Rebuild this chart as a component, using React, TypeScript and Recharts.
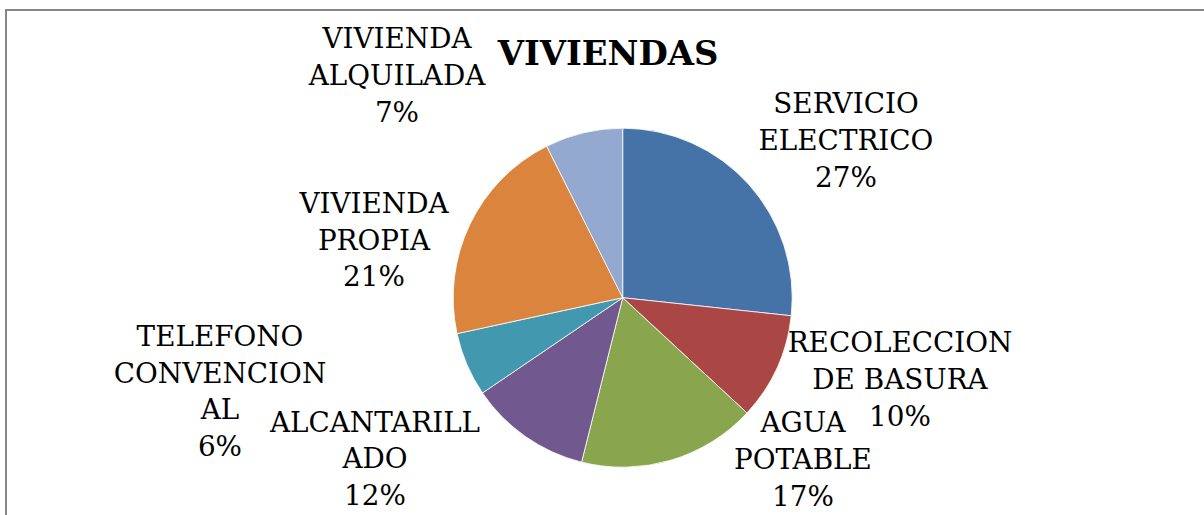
import React from "react";
import { PieChart, Pie, Cell } from "recharts";

// ---- data ----
const categories = [
  "SERVICIO ELECTRICO",
  "RECOLECCION DE BASURA",
  "AGUA POTABLE",
  "ALCANTARILLADO",
  "TELEFONO CONVENCIONAL",
  "VIVIENDA PROPIA",
  "VIVIENDA ALQUILADA",
];
const values = [26.7, 10.2, 17.0, 11.6, 6.1, 21.0, 7.4];
// label text as wrapped in the original chart
const labelLines = [
  ["SERVICIO", "ELECTRICO"],
  ["RECOLECCION", "DE BASURA"],
  ["AGUA", "POTABLE"],
  ["ALCANTARILL", "ADO"],
  ["TELEFONO", "CONVENCION", "AL"],
  ["VIVIENDA", "PROPIA"],
  ["VIVIENDA", "ALQUILADA"],
];
const title = "VIVIENDAS";

// ---- styles / layout ----
const colors = ["#4572A7", "#AA4643", "#89A54E", "#71588F", "#4198AF", "#DB843D", "#93A9CF"];
// label anchor offsets (first-line baseline) relative to the pie centre
const labelOffsets: [number, number][] = [
  [223.3, -184.4],
  [277.3, 54.6],
  [180.3, 134.6],
  [-247.7, 134],
  [-402.7, 48.3],
  [-248.7, -84.7],
  [-225.7, -249.4],
];
const FONT = "DejaVu Serif, serif";
const LINE = 36.7;

const data = categories.map((name, i) => ({ name, value: values[i] }));

const renderLabel = (props: any) => {
  const { cx, cy, index, percent } = props;
  const [dx, dy] = labelOffsets[index];
  const lines = [...labelLines[index], `${Math.round(percent * 100)}%`];
  const x = cx + dx;
  const y = cy + dy;
  return (
    <text
      key={`lbl-${index}`}
      x={x}
      y={y}
      textAnchor="middle"
      fontFamily={FONT}
      fontSize={27.8}
      fill="#000"
      stroke="none"
    >
      {lines.map((t, k) => (
        <tspan key={k} x={x} dy={k === 0 ? 0 : LINE}>
          {t}
        </tspan>
      ))}
    </text>
  );
};

export default function App() {
  return (
    <div style={{ position: "absolute", left: 0, top: 0, width: 1204, height: 515, background: "#fff" }}>
      <div
        style={{
          position: "absolute",
          left: 5,
          top: 9,
          width: 1199,
          height: 506,
          boxSizing: "border-box",
          borderLeft: "2px solid #868686",
          borderTop: "2px solid #868686",
        }}
      />
      <div style={{ position: "absolute", left: 0, top: 0 }}>
        <PieChart width={1204} height={515} margin={{ top: 0, right: 0, bottom: 0, left: 0 }}>
          <text
            x={608}
            y={65}
            textAnchor="middle"
            fontFamily={FONT}
            fontSize={33.8}
            fontWeight="bold"
            fill="#000"
          >
            {title}
          </text>
          <Pie
            data={data}
            dataKey="value"
            nameKey="name"
            cx={622.7}
            cy={297.7}
            outerRadius={169.5}
            startAngle={90}
            endAngle={-270}
            stroke="#ffffff"
            strokeWidth={0.8}
            label={renderLabel}
            labelLine={false}
            isAnimationActive={false}
          >
            {data.map((d, i) => (
              <Cell key={d.name} fill={colors[i]} />
            ))}
          </Pie>
        </PieChart>
      </div>
    </div>
  );
}
